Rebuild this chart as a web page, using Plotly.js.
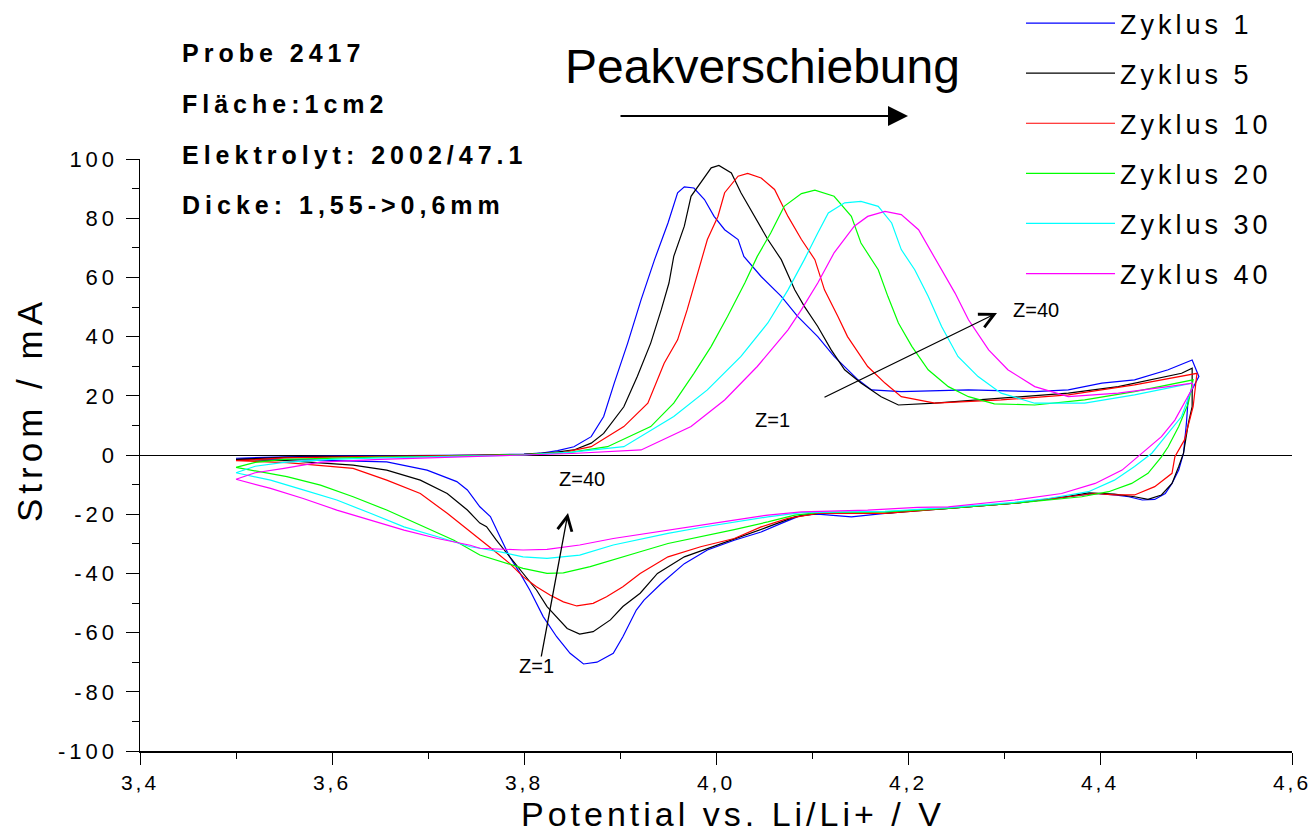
<!DOCTYPE html>
<html><head><meta charset="utf-8">
<script src="https://cdn.plot.ly/plotly-3.0.1.min.js"></script>
<style>
html,body{margin:0;padding:0;background:#fff;}
#chart{width:1312px;height:836px;}
.xtick text{letter-spacing:3px;}
.ytick text{letter-spacing:4px;}
.legendtext{letter-spacing:4px;}
g.annotation[data-index="0"] text,g.annotation[data-index="1"] text,g.annotation[data-index="2"] text,g.annotation[data-index="3"] text{letter-spacing:5px;}
g.annotation[data-index="4"] text{letter-spacing:5px;}
g.annotation[data-index="5"] text{letter-spacing:4px;}
</style></head>
<body><div id="chart"></div>
<script>
// ---- data (potential V, current mA), anodic sweep then cathodic sweep ----
const seriesNames = ['Zyklus 1','Zyklus 5','Zyklus 10','Zyklus 20','Zyklus 30','Zyklus 40'];
const seriesColors = ['#0000ff','#000000','#ff0000','#00ff00','#00ffff','#ff00ff'];

const c1V = [3.50,3.55,3.60,3.65,3.70,3.75,3.80,3.817,3.835,3.852,3.87,3.883,3.894,3.908,3.922,3.936,3.95,3.96,3.967,3.977,3.988,3.998,4.009,4.023,4.029,4.047,4.068,4.085,4.106,4.123,4.148,4.162,4.193,4.263,4.332,4.367,4.402,4.436,4.471,4.496,
  4.503,4.492,4.490,4.487,4.482,4.475,4.468,4.457,4.444,4.43,4.415,4.395,4.367,4.311,4.242,4.21,4.176,4.141,4.106,4.089,4.068,4.047,4.019,3.991,3.967,3.943,3.925,3.917,3.903,3.893,3.876,3.862,3.848,3.834,3.82,3.806,3.796,3.785,3.775,3.765,3.754,3.741,3.730,3.699,3.657,3.588,3.50];
const c1I = [-1.1,-0.6,-0.4,-0.3,-0.2,0.0,0.3,0.6,1.5,2.8,6.2,13,24.3,37.8,52.5,66,78.4,88.6,90.6,90.2,86.3,80.6,76.1,72.8,67.1,60.3,53.6,46.8,40.0,33.3,25.4,22,21.4,22,21.4,22,24.3,25.4,28.8,32.1,
  26.5,19.7,10.7,0.6,-5.1,-9.6,-13,-15,-15.2,-14.1,-13.5,-13,-14.1,-16.3,-18,-18.6,-19.7,-20.9,-20,-20.3,-23.1,-26,-28.8,-32.1,-36.7,-43.4,-49,-52.4,-61.4,-67,-70,-70.6,-67,-61.4,-54.6,-45.6,-40,-34.4,-27.6,-20.8,-17.5,-11.8,-9.0,-5.1,-2.3,-1.7,-1.1];

const c5V = [3.50,3.55,3.60,3.65,3.70,3.75,3.80,3.83,3.852,3.87,3.883,3.904,3.918,3.932,3.943,3.951,3.956,3.967,3.974,3.984,3.995,4.003,4.016,4.026,4.04,4.054,4.068,4.082,4.092,4.106,4.12,4.134,4.151,4.172,4.19,4.228,4.297,4.367,4.419,4.454,4.485,4.496,
  4.496,4.496,4.492,4.487,4.482,4.475,4.464,4.45,4.436,4.415,4.388,4.367,4.311,4.242,4.176,4.106,4.082,4.054,4.026,3.995,3.967,3.939,3.921,3.903,3.89,3.872,3.858,3.845,3.834,3.824,3.813,3.799,3.785,3.771,3.761,3.754,3.741,3.72,3.692,3.657,3.622,3.553,3.50];
const c5I = [-1.5,-0.8,-0.5,-0.4,-0.3,-0.1,0.2,0.8,1.7,4,7.3,16.3,26.5,37.8,49.1,58.1,67.1,77.3,87.4,91.9,97,97.8,95.3,88.6,80.6,72.8,66,55.8,50.2,43.4,35.5,28.8,24.3,19.7,16.9,17.5,19.2,20.9,23.1,25.4,27.6,29.3,
  28.8,16.3,10.7,0.6,-3.9,-9.6,-13.5,-15,-14.1,-13.2,-12.8,-14,-16.3,-18,-19.7,-19.7,-20.9,-24.3,-27.6,-31,-34.4,-40,-46.7,-51.2,-55.7,-59.7,-60.5,-58.6,-54.6,-51.2,-45.6,-40,-34.4,-28.7,-24.2,-23,-18.6,-13,-8.5,-5.1,-3.4,-1.9,-1.5];

const c10V = [3.50,3.55,3.60,3.65,3.70,3.75,3.80,3.84,3.87,3.904,3.929,3.946,3.96,3.97,3.981,3.991,4.002,4.009,4.023,4.033,4.047,4.061,4.075,4.089,4.103,4.113,4.127,4.137,4.158,4.176,4.193,4.228,4.297,4.367,4.436,4.499,
  4.501,4.497,4.488,4.478,4.475,4.457,4.436,4.415,4.395,4.367,4.311,4.242,4.176,4.106,4.075,4.047,4.019,3.984,3.95,3.921,3.903,3.886,3.872,3.855,3.841,3.827,3.813,3.799,3.785,3.768,3.754,3.72,3.692,3.657,3.622,3.553,3.50];
const c10I = [-1.9,-1.0,-0.7,-0.5,-0.4,-0.2,0.1,0.8,2.8,9.6,17.5,31,38.9,49.1,61.5,72.8,80.6,88.6,94.2,95.1,93.6,89.7,80.6,72.8,66,55.8,46.8,40,29.9,24.3,19.7,17.5,18.6,20.3,23.7,27.6,
  27.6,16.3,5.1,-0.6,-6.2,-10.7,-13.5,-13.5,-13,-14.1,-16.3,-18,-19.7,-19.7,-21.4,-24.3,-28.2,-31,-34.4,-40,-44.5,-47.9,-50.1,-51,-49.6,-47.3,-44.5,-41.1,-36.6,-32.1,-28.5,-19.7,-13,-8.5,-4.5,-2.6,-1.9];

const c20V = [3.50,3.52,3.55,3.60,3.65,3.70,3.75,3.80,3.85,3.887,3.932,3.956,3.977,3.995,4.012,4.03,4.043,4.057,4.071,4.089,4.103,4.123,4.141,4.151,4.169,4.179,4.19,4.204,4.221,4.242,4.263,4.29,4.332,4.384,4.436,4.496,
  4.497,4.492,4.482,4.471,4.464,4.45,4.433,4.409,4.381,4.311,4.242,4.176,4.106,4.082,4.054,4.019,3.984,3.95,3.921,3.893,3.869,3.841,3.824,3.799,3.775,3.754,3.727,3.692,3.657,3.622,3.588,3.553,3.50];
const c20I = [-4.2,-2.5,-1.5,-1.0,-0.7,-0.5,-0.2,0.1,1,2.8,9.6,17.5,27.6,36.7,46.8,58.1,67.1,75,84,88.3,89.5,87.4,80.6,71.6,62.6,53.6,44.6,36.7,28.8,23.1,19.7,17.3,16.9,18.6,21.4,25.4,
  25.4,17.5,9.6,2.8,-0.6,-6.2,-9.6,-12.4,-14.1,-16.3,-18,-19.2,-19.5,-20.3,-22.6,-25.2,-27.6,-29.9,-32.7,-35.5,-37.7,-39.8,-40,-38.3,-36,-33.8,-28.8,-23.7,-18.6,-14.1,-10.2,-7.3,-4.2];

const c30V = [3.50,3.52,3.55,3.60,3.65,3.70,3.75,3.80,3.85,3.904,3.956,3.991,4.026,4.054,4.075,4.092,4.106,4.117,4.134,4.151,4.169,4.183,4.193,4.207,4.221,4.235,4.252,4.273,4.297,4.332,4.384,4.436,4.496,
  4.497,4.485,4.471,4.454,4.436,4.415,4.388,4.346,4.311,4.242,4.176,4.089,4.054,4.019,3.984,3.95,3.921,3.893,3.858,3.824,3.799,3.775,3.754,3.744,3.71,3.675,3.64,3.605,3.57,3.536,3.50];
const c30I = [-6,-3.8,-2.5,-1.5,-1.0,-0.7,-0.4,0,1,2.8,13,22,33.3,44.6,55.8,66,75,81.8,85.2,85.7,84,78.4,69.4,62.6,53.6,43.4,33.3,26.5,20.9,17.5,17.5,20.3,24.3,
  23.7,13,7.3,0.6,-3.9,-8.5,-12.4,-14.7,-16,-17.8,-19,-19.5,-20.9,-22.6,-24.5,-26.5,-28.4,-30.4,-33.8,-34.9,-34.4,-32.7,-31.5,-31,-27.6,-24.3,-19.7,-15.2,-11.8,-8.5,-6];

const c40V = [3.50,3.52,3.55,3.588,3.65,3.70,3.75,3.80,3.85,3.922,3.974,4.009,4.043,4.075,4.089,4.106,4.123,4.144,4.158,4.176,4.193,4.211,4.221,4.235,4.249,4.263,4.284,4.304,4.332,4.367,4.419,4.471,4.496,
  4.497,4.478,4.464,4.444,4.423,4.395,4.360,4.311,4.242,4.21,4.158,4.089,4.054,4.019,3.984,3.95,3.921,3.893,3.858,3.824,3.799,3.775,3.754,3.744,3.71,3.675,3.64,3.605,3.57,3.536,3.50];
const c40I = [-8.2,-6,-4.5,-2.4,-1.5,-1.0,-0.6,-0.2,0.5,1.7,9.6,18.6,29.9,42.3,49.1,58.1,68.3,77.3,80.6,82.3,81.2,76.1,70.5,62.6,54.7,45.7,35.5,28.8,23.1,19.7,20.9,23.1,24.3,
  23,11.8,6.2,0.6,-5.1,-9.6,-13,-15.2,-17.5,-17.7,-18.6,-19.2,-20.3,-22,-23.7,-25.2,-26.7,-28.2,-30.4,-31.9,-32.1,-31.9,-31.5,-30.5,-28.2,-25.4,-22,-18.6,-14.7,-11.3,-8.2];

const xTickVals = [3.4,3.6,3.8,4.0,4.2,4.4,4.6];
const xTickText = ['3,4','3,6','3,8','4,0','4,2','4,4','4,6'];
const yTickVals = [-100,-80,-60,-40,-20,0,20,40,60,80,100];
const yTickText = ['-100','-80','-60','-40','-20','0','20','40','60','80','100'];

const infoLines = ['Probe 2417','Fläche:1cm2','Elektrolyt: 2002/47.1','Dicke: 1,55->0,6mm'];
const xTitle = 'Potential vs. Li/Li+ / V';
const yTitle = 'Strom / mA';

// ---- layout geometry ----
const W = 1312, H = 836, L = 140, R = 20, T = 159, B = 85;
const PW = W - L - R, PH = H - T - B;
const px = xp => (xp - L) / PW;
const py = yp => (H - B - yp) / PH;
const FONT = 'Liberation Sans, Arial, sans-serif';

const xs = [c1V,c5V,c10V,c20V,c30V,c40V];
const ys = [c1I,c5I,c10I,c20I,c30I,c40I];
const traces = xs.map((v, i) => ({
  x: v, y: ys[i], type: 'scatter', mode: 'lines', name: seriesNames[i],
  legendgroup: 'g' + i,
  line: {color: seriesColors[i], width: 1.2},
  hoverinfo: 'skip'
}));

const infoRowsY = [53, 104, 155, 205];
const annotations = infoLines.map((t, i) => ({
  text: t, xref: 'paper', yref: 'paper', x: px(180), y: py(infoRowsY[i]),
  xanchor: 'left', yanchor: 'middle', align: 'left', showarrow: false,
  font: {family: FONT, size: 25, color: '#000', weight: 'bold'}
}));
annotations.push(
  {text: yTitle, xref: 'paper', yref: 'paper', x: px(29), y: py(409), textangle: -90,
   xanchor: 'center', yanchor: 'middle', showarrow: false,
   font: {family: FONT, size: 35, color: '#000'}},
  {text: xTitle, xref: 'paper', yref: 'paper', x: px(733), y: py(814),
   xanchor: 'center', yanchor: 'middle', showarrow: false,
   font: {family: FONT, size: 34, color: '#000'}},
  {text: 'Peakverschiebung', xref: 'paper', yref: 'paper', x: px(563), y: py(67),
   xanchor: 'left', yanchor: 'middle', showarrow: false,
   font: {family: FONT, size: 48, color: '#000'}},
  {text: '', xref: 'paper', yref: 'paper', x: px(908), y: py(116), ax: -289, ay: 0,
   showarrow: true, arrowhead: 2, arrowsize: 2, arrowwidth: 2, arrowcolor: '#000'},
  {text: 'Z=40', xref: 'paper', yref: 'paper', x: px(1011), y: py(297), xanchor: 'left', showarrow: false,
   font: {family: FONT, size: 20, color: '#000'}},
  {text: 'Z=1', xref: 'paper', yref: 'paper', x: px(772), y: py(420), showarrow: false,
   font: {family: FONT, size: 20, color: '#000'}},
  {text: 'Z=40', xref: 'paper', yref: 'paper', x: px(582), y: py(479), showarrow: false,
   font: {family: FONT, size: 20, color: '#000'}},
  {text: 'Z=1', xref: 'paper', yref: 'paper', x: px(517), y: py(679), showarrow: false,
   font: {family: FONT, size: 20, color: '#000'}},
  {text: '', xref: 'paper', yref: 'paper', x: px(997), y: py(313), ax: -174, ay: 85,
   showarrow: true, arrowhead: 5, arrowsize: 2.2, arrowwidth: 1.3, arrowcolor: '#000'},
  {text: '', xref: 'paper', yref: 'paper', x: px(568), y: py(513), ax: -27, ay: 145,
   showarrow: true, arrowhead: 5, arrowsize: 2.2, arrowwidth: 1.3, arrowcolor: '#000'}
);

const layout = {
  width: W, height: H,
  margin: {l: L, r: R, t: T, b: B, pad: 0, autoexpand: false},
  paper_bgcolor: '#fff', plot_bgcolor: '#fff',
  font: {family: FONT, color: '#000'},
  showlegend: true,
  legend: {x: px(1021), y: py(-1), xanchor: 'left', yanchor: 'top',
           bgcolor: 'rgba(0,0,0,0)', traceorder: 'grouped', tracegroupgap: 12,
           itemwidth: 89, font: {family: FONT, size: 27, color: '#000'}},
  xaxis: {range: [3.4, 4.6], tickmode: 'array', tickvals: xTickVals, ticktext: xTickText,
          showgrid: false, zeroline: false, showline: true, linecolor: '#000', linewidth: 1.5,
          ticks: 'outside', ticklen: 12, tickwidth: 1, tickcolor: '#000',
          minor: {dtick: 0.1, tick0: 3.4, ticks: 'outside', ticklen: 6, tickwidth: 1, tickcolor: '#000'},
          tickfont: {family: FONT, size: 21, color: '#000'},
          fixedrange: true},
  yaxis: {range: [-100, 100], tickmode: 'array', tickvals: yTickVals, ticktext: yTickText,
          showgrid: false, zeroline: true, zerolinecolor: '#000', zerolinewidth: 1,
          showline: true, linecolor: '#000', linewidth: 1.5,
          ticks: 'outside', ticklen: 13, tickwidth: 1, tickcolor: '#000',
          minor: {dtick: 10, tick0: 0, ticks: 'outside', ticklen: 7, tickwidth: 1, tickcolor: '#000'},
          tickfont: {family: FONT, size: 22, color: '#000'}, ticklabelstandoff: 3,
          fixedrange: true},
  annotations: annotations
};

Plotly.newPlot('chart', traces, layout, {staticPlot: true, displayModeBar: false});
</script></body></html>
